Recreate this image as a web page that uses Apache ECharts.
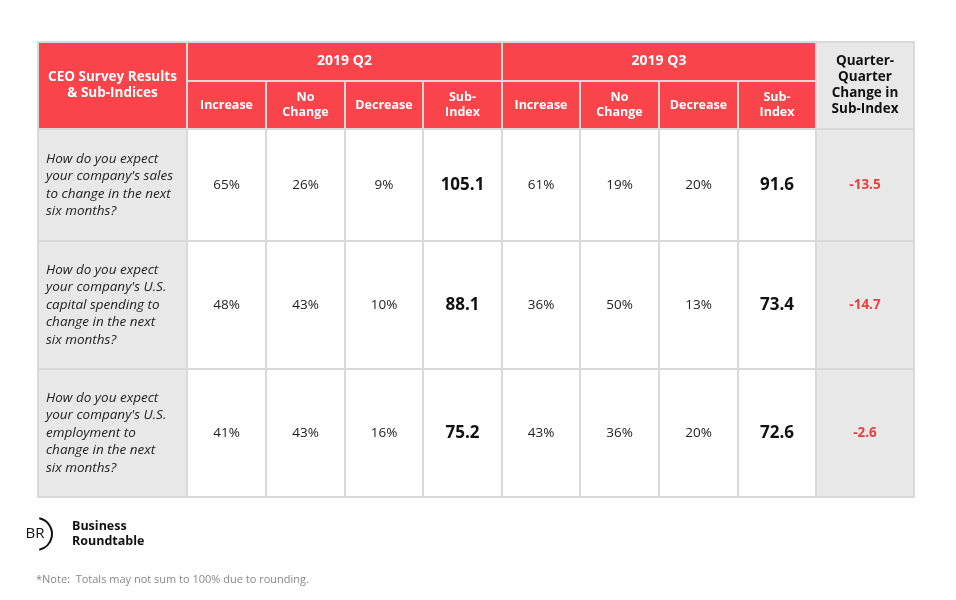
<!DOCTYPE html>
<html><head><meta charset="utf-8">
<script src="https://cdn.jsdelivr.net/npm/echarts@6/dist/echarts.min.js"></script>
<style>html,body{margin:0;background:#fff}#main{width:956px;height:600px}</style>
</head><body><div id="main"></div>
<script>
var questions = [
    "How do you expect\nyour company's sales\nto change in the next\nsix months?",
    "How do you expect\nyour company's U.S.\ncapital spending to\nchange in the next\nsix months?",
    "How do you expect\nyour company's U.S.\nemployment to\nchange in the next\nsix months?"
];
var subHeaders = ['Increase', 'No\nChange', 'Decrease', 'Sub-\nIndex'];
var q2Values = [['65%', '26%', '9%', '105.1'], ['48%', '43%', '10%', '88.1'], ['41%', '43%', '16%', '75.2']];
var q3Values = [['61%', '19%', '20%', '91.6'], ['36%', '50%', '13%', '73.4'], ['43%', '36%', '20%', '72.6']];
var changes = ['-13.5', '-14.7', '-2.6'];

var colX = [38, 187, 266, 345, 423, 502, 580, 659, 738, 816, 914];
var rowY = [42, 129, 241, 369, 497];
var midY = 81;
var red = '#f9444c', grey = '#e8e8e8', line = '#d9d9d9', font = 'Open Sans';

var els = [];
function cell(x0, y0, x1, y1, fill, text, style) {
    els.push({type: 'rect', shape: {x: x0, y: y0, width: x1 - x0, height: y1 - y0},
        style: {fill: fill, stroke: line, lineWidth: 2}});
    if (text != null) {
        var s = Object.assign({text: text, fontFamily: font, fontSize: 13, fill: '#222',
            align: 'center', verticalAlign: 'middle', lineHeight: 16}, style || {});
        var tx = s.align === 'left' ? x0 + 8 : (x0 + x1) / 2;
        els.push({type: 'text', x: tx, y: (y0 + y1) / 2, style: s});
    }
}
var hdr = {fill: '#fff', fontWeight: 'bold'};
cell(colX[0], rowY[0], colX[1], rowY[1], red, 'CEO Survey Results\n& Sub-Indices', Object.assign({fontSize: 13.5}, hdr));
cell(colX[1], rowY[0], colX[5], midY, red, '2019 Q2', Object.assign({fontSize: 14}, hdr));
cell(colX[5], rowY[0], colX[9], midY, red, '2019 Q3', Object.assign({fontSize: 14}, hdr));
cell(colX[9], rowY[0], colX[10], rowY[1], grey, 'Quarter-\nQuarter\nChange in\nSub-Index', {fontWeight: 'bold', fontSize: 13.5, fill: '#111'});
for (var k = 0; k < 8; k++) {
    cell(colX[k + 1], midY, colX[k + 2], rowY[1], red, subHeaders[k % 4], Object.assign({fontSize: 12.5, lineHeight: 15}, hdr));
}
questions.forEach(function (q, r) {
    var y0 = rowY[r + 1], y1 = rowY[r + 2];
    cell(colX[0], y0, colX[1], y1, grey, q, {align: 'left', fontStyle: 'italic', fontSize: 13.5, lineHeight: 17.5});
    var vals = q2Values[r].concat(q3Values[r]);
    vals.forEach(function (v, c) {
        var big = c % 4 === 3;
        cell(colX[c + 1], y0, colX[c + 2], y1, '#fff', v,
            big ? {fontSize: 17, fontWeight: 'bold', fill: '#111'} : {fontSize: 13.5});
    });
    cell(colX[9], y0, colX[10], y1, grey, changes[r], {fontWeight: 'bold', fill: '#e8403f', fontSize: 13.5});
});
// logo
els.push({type: 'arc', shape: {cx: 36, cy: 534, r: 16, startAngle: -Math.PI / 2.3, endAngle: Math.PI / 2.3},
    style: {stroke: '#111', lineWidth: 2, fill: 'none'}});
els.push({type: 'text', x: 35, y: 534, style: {text: 'BR', fontFamily: font, fontSize: 15, fill: '#111', align: 'center', verticalAlign: 'middle'}});
els.push({type: 'text', x: 72, y: 534, style: {text: 'Business\nRoundtable', fontFamily: font, fontSize: 12.5, fontWeight: 'bold', fill: '#111', verticalAlign: 'middle', lineHeight: 15}});
els.push({type: 'text', x: 36, y: 580, style: {text: '*Note:  Totals may not sum to 100% due to rounding.', fontFamily: font, fontSize: 11, fill: '#888', verticalAlign: 'middle'}});

var chart = echarts.init(document.getElementById('main'));
chart.setOption({backgroundColor: '#fff', graphic: {elements: els}});
</script></body></html>
